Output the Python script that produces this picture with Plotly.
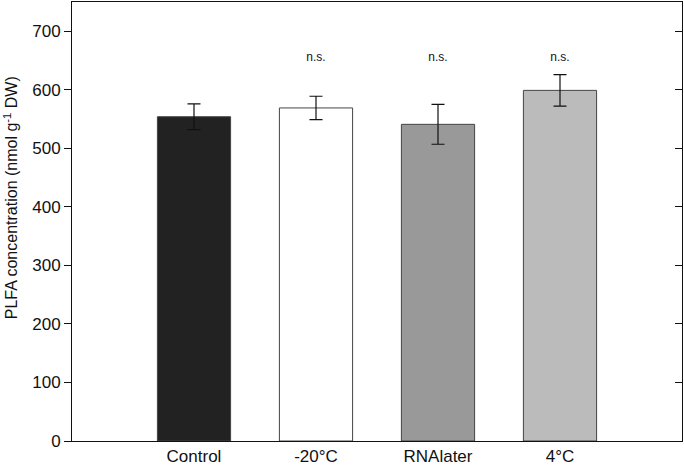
import plotly.graph_objects as go

categories = ["Control", "-20°C", "RNAlater", "4°C"]
values = [554, 569, 541, 599]
errors = [22, 20, 34, 27]
sig_labels = ["", "n.s.", "n.s.", "n.s."]
sig_y = [655, 655, 655, 655]
colors = ["#222222", "#ffffff", "#999999", "#bbbbbb"]
y_ticks = [0, 100, 200, 300, 400, 500, 600, 700]
y_title = "PLFA concentration (nmol g<sup>-1</sup> DW)"

FONT = "Liberation Sans, Arial, sans-serif"

fig = go.Figure()
fig.add_trace(go.Bar(
    x=list(range(len(categories))), y=values, width=0.6,
    marker=dict(color=colors, line=dict(color="#444444", width=1)),
    error_y=dict(type="data", array=errors, visible=True, color="#111111",
                 thickness=1.2, width=6.5),
    showlegend=False,
))
fig.add_trace(go.Scatter(
    x=list(range(len(categories))), y=sig_y, text=sig_labels, mode="text",
    textfont=dict(family=FONT, size=12, color="#111111"), showlegend=False,
))
fig.add_trace(go.Scatter(x=[0], y=[0], yaxis="y2", mode="markers",
                         marker=dict(opacity=0), showlegend=False, hoverinfo="skip"))

fig.update_layout(
    width=684, height=465,
    margin=dict(l=72, r=2, t=2, b=24, autoexpand=False),
    plot_bgcolor="white", paper_bgcolor="white",
    font=dict(family=FONT, color="#111111"),
    xaxis=dict(
        range=[-1, 4], tickmode="array", tickvals=list(range(len(categories))),
        ticktext=categories, ticks="", showline=True, linecolor="#111111",
        linewidth=1, mirror=True, showgrid=False, zeroline=False,
        tickfont=dict(size=17), ticklen=0,
    ),
    yaxis=dict(
        range=[0, 750], tickvals=y_ticks, ticks="outside", ticklen=7,
        tickcolor="#111111", showline=True, linecolor="#111111", linewidth=1,
        mirror=True, showgrid=False, zeroline=False, tickfont=dict(size=17),
    ),
    yaxis2=dict(
        range=[0, 750], tickvals=y_ticks, overlaying="y", side="right",
        ticks="inside", ticklen=7, tickcolor="#111111", showticklabels=False,
        showgrid=False, zeroline=False, showline=False,
    ),
    annotations=[dict(
        text=y_title, textangle=-90, xref="paper", yref="paper",
        x=-0.1, y=0.553, xanchor="center", yanchor="middle",
        showarrow=False, font=dict(size=16, family=FONT, color="#111111"),
    )],
)

fig.write_html("out.html", config={"displayModeBar": False},
               post_script="document.body.style.margin='0';")
with open("out.html", encoding="utf-8") as f:
    html = f.read()
html = html.replace("<body>", '<body style="margin:0;padding:0;overflow:hidden">', 1)
with open("out.html", "w", encoding="utf-8") as f:
    f.write(html)
